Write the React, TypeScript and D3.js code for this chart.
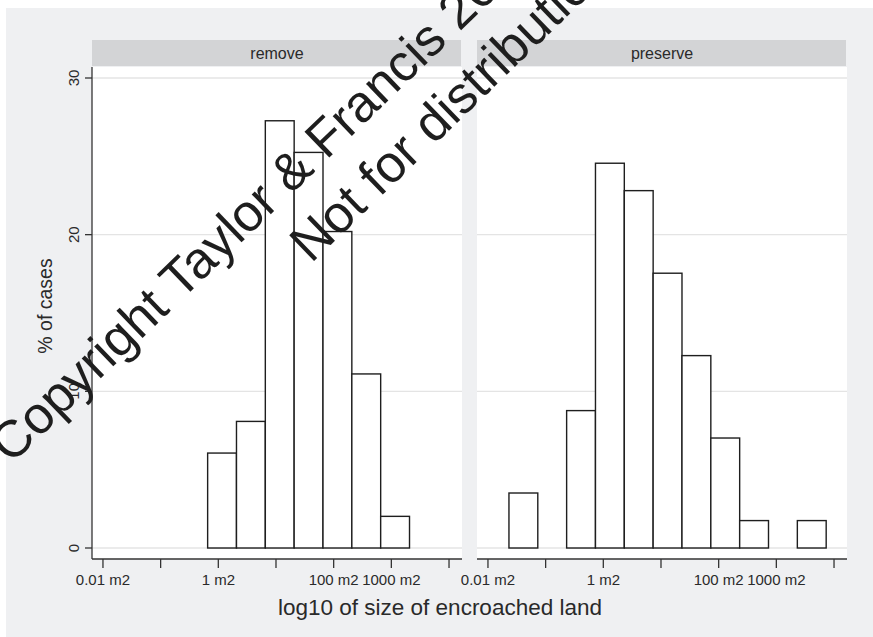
import React from "react";
import * as d3 from "d3";

const W = 873;
const H = 637;

// Panel labels
const panels = ["remove", "preserve"];

// Histogram bins: left edge in log10(m2), bin width 0.5, height in % of cases
const binWidth = 0.5;
const removeBinLeft = [-0.185, 0.315, 0.815, 1.315, 1.815, 2.315, 2.815];
const removePct = [6.06, 8.08, 27.27, 25.25, 20.2, 11.11, 2.02];
const preserveBinLeft = [-1.636, -0.636, -0.136, 0.364, 0.864, 1.364, 1.864, 2.364, 3.364];
const preservePct = [3.51, 8.77, 24.56, 22.81, 17.54, 12.28, 7.02, 1.75, 1.75];

// Axes
const xTickValues = [-2, -1, 0, 1, 2, 3, 4];
const xTickLabels: Record<string, string> = { "-2": "0.01 m2", "0": "1 m2", "2": "100 m2", "3": "1000 m2" };
const yTickValues = [0, 10, 20, 30];
const xTitle = "log10 of size of encroached land";
const yTitle = "% of cases";
const watermark1 = "Copyright Taylor & Francis 20";
const watermark2 = "Not for distribution";

const FONT = "'Liberation Sans', Arial, Helvetica, sans-serif";

export default function App() {
  const panelX = [92, 477];
  const panelW = 370;
  const plotTop = 67;
  const plotBottom = 559;
  const x = d3.scaleLinear().domain([-2.19, 4.225]).range([0, panelW]);
  const y = d3.scaleLinear().domain([0, 30]).range([548, 78]);

  const series = [
    { left: removeBinLeft, pct: removePct },
    { left: preserveBinLeft, pct: preservePct },
  ];

  const theta = -44;
  const rad = (theta * Math.PI) / 180;
  const down = { x: -Math.sin(rad), y: Math.cos(rad) };
  const s1 = { x: 11, y: 465 };
  const s2 = { x: 311, y: 264 };

  return (
    <svg width={W} height={H} style={{ position: "absolute", left: 0, top: 0, background: "#fff" }}>
      <rect x={6} y={8} width={W - 6} height={H - 8} fill="#eff0f2" />
      {panels.map((p, i) => {
        const px = panelX[i];
        const s = series[i];
        return (
          <g key={p}>
            <rect x={px} y={40} width={panelW - 1} height={26} fill="#d3d4d6" />
            <text x={px + panelW / 2} y={58.5} textAnchor="middle" fontFamily={FONT} fontSize={16} fill="#2a2a2a">
              {p}
            </text>
            <rect x={px} y={plotTop} width={panelW} height={plotBottom - plotTop} fill="#ffffff" />
            {yTickValues.map((v) => (
              <line key={v} x1={px} x2={px + panelW} y1={y(v)} y2={y(v)} stroke="#e4e4e4" strokeWidth={1.3} />
            ))}
            {s.left.map((l, j) => (
              <rect
                key={j}
                x={px + x(l)}
                y={y(s.pct[j])}
                width={x(l + binWidth) - x(l)}
                height={y(0) - y(s.pct[j])}
                fill="#ffffff"
                stroke="#1e1e1e"
                strokeWidth={1.4}
              />
            ))}
            <line x1={px} x2={px + panelW} y1={plotBottom} y2={plotBottom} stroke="#333" strokeWidth={1.3} />
            {xTickValues.map((v) => (
              <g key={v}>
                <line x1={px + x(v)} x2={px + x(v)} y1={plotBottom} y2={plotBottom + 9} stroke="#333" strokeWidth={1.3} />
                {xTickLabels[String(v)] && (
                  <text x={px + x(v)} y={585} textAnchor="middle" fontFamily={FONT} fontSize={15} fill="#2a2a2a">
                    {xTickLabels[String(v)]}
                  </text>
                )}
              </g>
            ))}
          </g>
        );
      })}
      {/* y axis on left panel */}
      <line x1={92} x2={92} y1={plotTop} y2={plotBottom} stroke="#333" strokeWidth={1.3} />
      {yTickValues.map((v) => (
        <g key={v}>
          <line x1={85} x2={92} y1={y(v)} y2={y(v)} stroke="#333" strokeWidth={1.3} />
          <text
            transform={`translate(78.5,${y(v)}) rotate(-90)`}
            textAnchor="middle"
            fontFamily={FONT}
            fontSize={15}
            fill="#2a2a2a"
          >
            {v}
          </text>
        </g>
      ))}
      <text transform={`translate(52,306) rotate(-90)`} textAnchor="middle" fontFamily={FONT} fontSize={19.5} fill="#2a2a2a">
        {yTitle}
      </text>
      <text x={440} y={615} textAnchor="middle" fontFamily={FONT} fontSize={22.5} fill="#2a2a2a">
        {xTitle}
      </text>
      {/* watermark */}
      <text transform={`translate(${s1.x},${s1.y}) rotate(${theta})`} fontFamily={FONT} fontSize={52} fill="#1e1e1e">
        {watermark1}
      </text>
      <text transform={`translate(${s2.x},${s2.y}) rotate(${theta})`} fontFamily={FONT} fontSize={52} fill="#1e1e1e">
        {watermark2}
      </text>
    </svg>
  );
}
